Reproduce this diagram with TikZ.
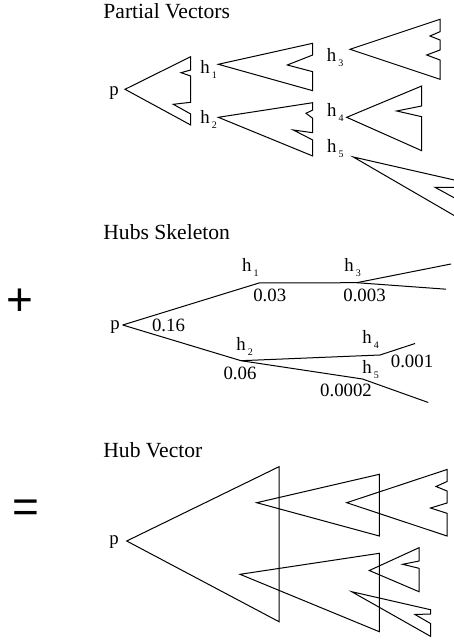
\documentclass[tikz,border=0pt]{standalone}
\usepackage{fontspec}
\setmainfont{Liberation Serif}
\newfontfamily\opfont{Liberation Sans}
\usetikzlibrary{positioning}
\newcommand{\hsub}[1]{h\kern1pt\raisebox{-2.5pt}{\fontsize{5}{6}\selectfont #1}}

\begin{document}
\begin{tikzpicture}[x=0.5pt, y=-0.5pt,
  head/.style={
    anchor=base west, inner sep=0pt,
    font=\fontsize{10.8}{13}\selectfont
  },
  hub/.style={
    anchor=base west, inner sep=0pt,
    font=\fontsize{9.4}{11}\selectfont
  },
  wgt/.style={
    inner sep=0pt, font=\fontsize{9.4}{11}\selectfont
  },
  oper/.style={
    inner sep=0pt, font=\opfont\fontsize{23}{26}\selectfont
  },
  vec/.style={draw, line width=0.5pt, line join=miter},
  skel/.style={draw, line width=0.5pt}
]
\clip (0,0) rectangle (454,641);

%% ── Partial Vectors ─────────────────────────────────────────────────────────
\node[head] (ttlpart) at (103,19) {Partial Vectors};
\node[wgt] (pp) at (114,93.3) {p};
\node[hub] (ph1) at (200,73.3)  {\hsub{1}};
\node[hub] (ph2) at (200,124)   {\hsub{2}};
\node[hub] (ph3) at (326.5,62)  {\hsub{3}};
\node[hub] (ph4) at (326.7,116.7) {\hsub{4}};
\node[hub] (ph5) at (326.7,152.7) {\hsub{5}};

%% vector de p, sin h1 y h2
\draw[vec] (125,89.3) -- (190.7,56.7) -- (190.7,70) -- (181,72.7)
  -- (190.7,76) -- (190.7,102.3) -- (173.3,104.3) -- (190.7,114)
  -- (190.7,125) -- cycle;
%% h1, sin h3
\draw[vec] (218.3,64.3) -- (312.7,43.3) -- (312.7,55) -- (287.3,65)
  -- (312.7,71.7) -- (312.7,90.7) -- cycle;
%% h3
\draw[vec] (350,49.3) -- (440,19.3) -- (440,31.7) -- (430,36)
  -- (440,40) -- (440,50) -- (426.7,55) -- (440,60) -- (440,79.3) -- cycle;
%% h2, sin h4 y h5
\draw[vec] (218.3,117.3) -- (312.7,102.7) -- (312.7,110) -- (306,113.3)
  -- (312.7,118.3) -- (312.7,132.7) -- (293.3,130) -- (312.7,140)
  -- (312.7,156) -- cycle;
%% h4
\draw[vec] (346.7,117.3) -- (421.7,86) -- (421.7,106) -- (396.7,111)
  -- (421.7,116.7) -- (421.7,150.7) -- cycle;
%% h5 (cortado por el borde)
\draw[vec] (353.3,157) -- (456,180.4) -- (456,187.3) -- (435,187.3)
  -- (456,198.8) -- (456,216.6) -- cycle;

%% ── Hubs Skeleton ───────────────────────────────────────────────────────────
\node[head] (ttlskel) at (103,240) {Hubs Skeleton};
\node[oper] (plus) at (20,302.5) {+};
\node[wgt] (sp) at (115,326.7) {p};

\coordinate (s0)  at (122.7,325);
\coordinate (sh1) at (259,283);
\coordinate (sh3) at (356.7,282.7);
\coordinate (se3a) at (451,264);
\coordinate (se3b) at (446,289.2);
\coordinate (sh2) at (241,360.7);
\coordinate (sh4) at (380,355);
\coordinate (se4) at (415,343.5);
\coordinate (sh5) at (362.5,379);
\coordinate (se5) at (428.3,402.5);

\draw[skel] (s0) -- (sh1) -- (sh3) -- (se3a);
\draw[skel] (sh3) -- (se3b);
\draw[skel] (s0) -- (sh2) -- (sh4) -- (se4);
\draw[skel] (sh2) -- (sh5) -- (se5);

\node[hub] (sl1) at (241.7,271.7) {\hsub{1}};
\node[hub] (sl3) at (344,271.7)   {\hsub{3}};
\node[hub] (sl2) at (236,350)     {\hsub{2}};
\node[hub] (sl4) at (362,343)     {\hsub{4}};
\node[hub] (sl5) at (362,373)     {\hsub{5}};

\node[wgt] (w0)  at (168.5,325.5) {0.16};
\node[wgt] (w1)  at (269.7,295)   {0.03};
\node[wgt] (w3)  at (364.5,295)   {0.003};
\node[wgt] (w2)  at (240,373)     {0.06};
\node[wgt] (w4)  at (412,361.7)   {0.001};
\node[wgt] (w5)  at (346,390)     {0.0002};

%% ── Hub Vector ──────────────────────────────────────────────────────────────
\node[head] (ttlhub) at (103,457.7) {Hub Vector};
\node[oper] (eq) at (26,511.5) {=};
\node[wgt] (hp) at (114,541.7) {p};

\draw[vec] (126.7,541) -- (279,466.7) -- (279,621.7) -- cycle;
\draw[vec] (256.7,502.7) -- (379.3,474.3) -- (379.3,536) -- cycle;
\draw[vec] (346.7,502.7) -- (447,469.5) -- (447,481.5) -- (436,486.5)
  -- (447,491) -- (447,503) -- (430.5,508) -- (447,513.3) -- (447,536) -- cycle;
\draw[vec] (240,574.3) -- (379.3,553.3) -- (379.3,631.7) -- cycle;
\draw[vec] (369.3,570.5) -- (419,547.7) -- (419,561) -- (402.7,564.3)
  -- (419,568.3) -- (419,591.7) -- cycle;
\draw[vec] (351.7,591.7) -- (430.5,609.7) -- (430.5,614) -- (415,614.5)
  -- (430.5,623.5) -- (430.5,636.3) -- cycle;

\end{tikzpicture}
\end{document}
